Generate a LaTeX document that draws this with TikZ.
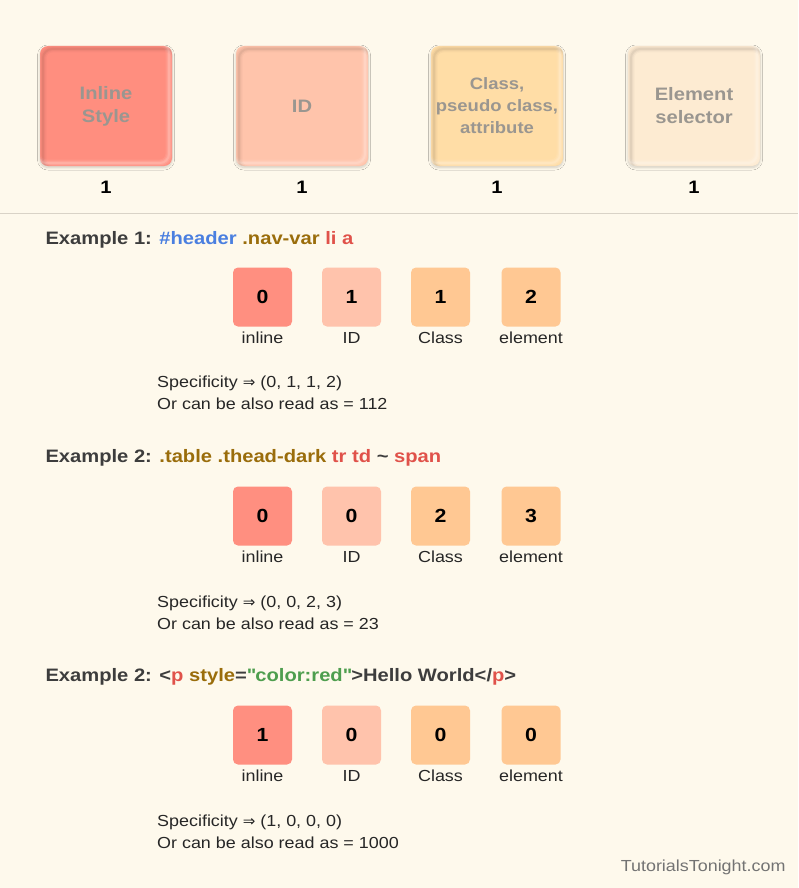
\documentclass[tikz,border=0pt]{standalone}
\usepackage{fontspec}
\setmainfont{Liberation Sans}[FakeStretch=1.12]
\newfontfamily\symfont{DejaVu Sans}
\usetikzlibrary{shadows.blur}
\definecolor{bg}{HTML}{FEF9EC}
\definecolor{cInline}{HTML}{FF8E7F}
\definecolor{cId}{HTML}{FFC4AB}
\definecolor{cClass}{HTML}{FFDDA6}
\definecolor{cElem}{HTML}{FDEBD2}
\definecolor{sInline}{HTML}{FF8F80}
\definecolor{sId}{HTML}{FFC3AC}
\definecolor{sClass}{HTML}{FFC893}
\definecolor{tdark}{HTML}{3D3D3D}
\definecolor{tblue}{HTML}{4A7FE0}
\definecolor{tolive}{HTML}{9A6D0B}
\definecolor{tred}{HTML}{E0524A}
\definecolor{tgreen}{HTML}{4E9E4E}
\definecolor{tgrey}{HTML}{9A9690}
\definecolor{sep}{HTML}{D9D3C7}
\newcommand{\implarrow}{{\symfont\fontsize{15}{19}\selectfont ⇒}}
\tikzset{
  bigbox/.style={rounded corners=8pt, minimum width=132pt, minimum height=120pt, inner sep=0pt,
    fill=#1, text=tgrey, font=\bfseries\fontsize{18}{23}\selectfont, align=center,
    blur shadow={shadow xshift=0pt, shadow yshift=-1.5pt, shadow blur radius=2.5pt, shadow blur steps=8, shadow opacity=18},
    path picture={
      \foreach \w/\o in {7/0.025,4.5/0.035,2/0.05}{
        \draw[line width=\w pt, draw=black, opacity=\o, rounded corners=9pt]
          ([xshift=3pt,yshift=-3pt]path picture bounding box.north west) rectangle
          ([xshift=3pt,yshift=-3pt]path picture bounding box.south east);
        \draw[line width=\w pt, draw=white, opacity=3*\o, rounded corners=9pt]
          ([xshift=-3pt,yshift=3pt]path picture bounding box.north west) rectangle
          ([xshift=-3pt,yshift=3pt]path picture bounding box.south east);
      }
    }},
  smallbox/.style={rounded corners=5pt, minimum width=59pt, minimum height=59pt, inner sep=0pt,
    fill=#1, font=\bfseries\fontsize{19}{22}\selectfont, text=black},
  bignum/.style={font=\bfseries\fontsize{18}{22}\selectfont, text=black},
  lbl/.style={font=\fontsize{16}{19}\selectfont, text=black!85},
  title/.style={anchor=west, font=\bfseries\fontsize{18}{22}\selectfont, text=tdark},
  spec/.style={anchor=north west, align=left, font=\fontsize{16}{21.5}\selectfont, text=black!85, inner sep=0pt},
}
\begin{document}
\begin{tikzpicture}[x=1pt,y=-1pt]
\fill[bg] (0,0) rectangle (798,888);
\useasboundingbox (0,0) rectangle (798,888);
% top boxes
\node[bigbox=cInline] (b1) at (106,106) {Inline\\Style};
\node[bigbox=cId] (b2) at (302,106) {ID};
\node[bigbox=cClass, font=\bfseries\fontsize{16.5}{22}\selectfont] (b3) at (497,106) {Class,\\pseudo class,\\attribute};
\node[bigbox=cElem] (b4) at (694,106) {Element\\selector};
\node[bignum] (n1) at (106,187) {1};
\node[bignum] (n2) at (302,187) {1};
\node[bignum] (n3) at (497,187) {1};
\node[bignum] (n4) at (694,187) {1};
\coordinate (sl) at (0,213);
\coordinate (sr) at (798,213);
\draw[sep, line width=0.8pt] (sl) -- (sr);
% example 1
\node[title] (t1) at (42,240) {Example 1: \textcolor{tblue}{\#header} \textcolor{tolive}{.nav-var} \textcolor{tred}{li a}};
\node[smallbox=sInline] (e1a) at (262.5,297) {0};
\node[smallbox=sId] (e1b) at (351.5,297) {1};
\node[smallbox=sClass] (e1c) at (440.5,297) {1};
\node[smallbox=sClass] (e1d) at (531,297) {2};
\node[lbl] (l1a) at (262.5,338) {inline};
\node[lbl] (l1b) at (351.5,338) {ID};
\node[lbl] (l1c) at (440.5,338) {Class};
\node[lbl] (l1d) at (531,338) {element};
\node[spec] (s1) at (157,376) {Specificity \implarrow{} (0, 1, 1, 2)\\Or can be also read as = 112};
% example 2
\node[title] (t2) at (42,458) {Example 2: \textcolor{tolive}{.table .thead-dark} \textcolor{tred}{tr td} \textasciitilde{} \textcolor{tred}{span}};
\node[smallbox=sInline] (e2a) at (262.5,516) {0};
\node[smallbox=sId] (e2b) at (351.5,516) {0};
\node[smallbox=sClass] (e2c) at (440.5,516) {2};
\node[smallbox=sClass] (e2d) at (531,516) {3};
\node[lbl] (l2a) at (262.5,557) {inline};
\node[lbl] (l2b) at (351.5,557) {ID};
\node[lbl] (l2c) at (440.5,557) {Class};
\node[lbl] (l2d) at (531,557) {element};
\node[spec] (s2) at (157,596) {Specificity \implarrow{} (0, 0, 2, 3)\\Or can be also read as = 23};
% example 3
\node[title] (t3) at (42,677) {Example 2: <\textcolor{tred}{p} \textcolor{tolive}{style}=\textcolor{tgreen}{\textquotedbl color:red\textquotedbl}>Hello World</\textcolor{tred}{p}>};
\node[smallbox=sInline] (e3a) at (262.5,735) {1};
\node[smallbox=sId] (e3b) at (351.5,735) {0};
\node[smallbox=sClass] (e3c) at (440.5,735) {0};
\node[smallbox=sClass] (e3d) at (531,735) {0};
\node[lbl] (l3a) at (262.5,776) {inline};
\node[lbl] (l3b) at (351.5,776) {ID};
\node[lbl] (l3c) at (440.5,776) {Class};
\node[lbl] (l3d) at (531,776) {element};
\node[spec] (s3) at (157,815) {Specificity \implarrow{} (1, 0, 0, 0)\\Or can be also read as = 1000};
\node[anchor=east, font=\fontsize{16}{19}\selectfont, text=black!55] (wm) at (789,867) {TutorialsTonight.com};
\end{tikzpicture}
\end{document}
